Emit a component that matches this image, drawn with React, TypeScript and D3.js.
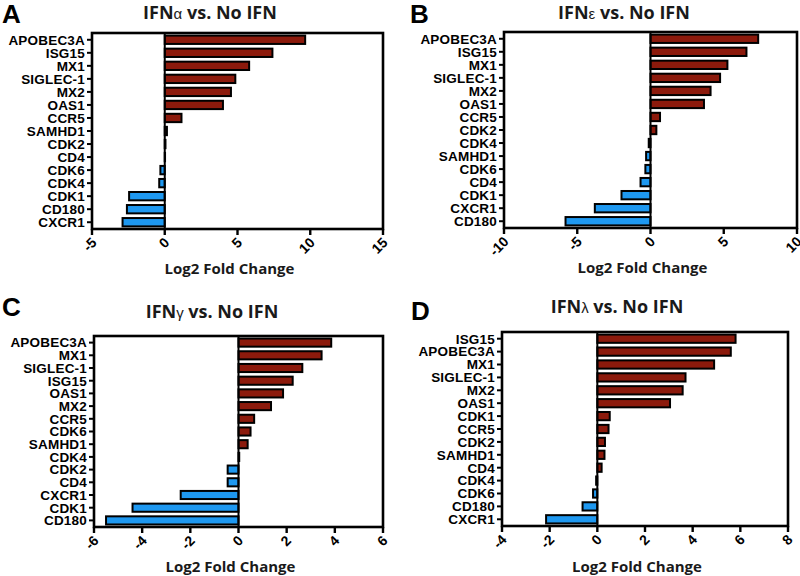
import React from 'react';
import * as d3 from 'd3';

// panel A: IFN-alpha
const genesA = ['APOBEC3A', 'ISG15', 'MX1', 'SIGLEC-1', 'MX2', 'OAS1', 'CCR5', 'SAMHD1', 'CDK2', 'CD4', 'CDK6', 'CDK4', 'CDK1', 'CD180', 'CXCR1'];
const valuesA = [9.65, 7.4, 5.8, 4.85, 4.55, 4.0, 1.15, 0.15, 0.05, 0.02, -0.3, -0.38, -2.45, -2.6, -2.9];
const ticksA = [-5, 0, 5, 10, 15];

// panel B: IFN-epsilon
const genesB = ['APOBEC3A', 'ISG15', 'MX1', 'SIGLEC-1', 'MX2', 'OAS1', 'CCR5', 'CDK2', 'CDK4', 'SAMHD1', 'CDK6', 'CD4', 'CDK1', 'CXCR1', 'CD180'];
const valuesB = [7.35, 6.55, 5.25, 4.75, 4.1, 3.65, 0.65, 0.4, -0.12, -0.3, -0.35, -0.68, -1.98, -3.8, -5.8];
const ticksB = [-10, -5, 0, 5, 10];

// panel C: IFN-gamma
const genesC = ['APOBEC3A', 'MX1', 'SIGLEC-1', 'ISG15', 'OAS1', 'MX2', 'CCR5', 'CDK6', 'SAMHD1', 'CDK4', 'CDK2', 'CD4', 'CXCR1', 'CDK1', 'CD180'];
const valuesC = [3.85, 3.45, 2.65, 2.25, 1.85, 1.35, 0.65, 0.5, 0.38, 0.03, -0.45, -0.45, -2.4, -4.4, -5.5];
const ticksC = [-6, -4, -2, 0, 2, 4, 6];

// panel D: IFN-lambda
const genesD = ['ISG15', 'APOBEC3A', 'MX1', 'SIGLEC-1', 'MX2', 'OAS1', 'CDK1', 'CCR5', 'CDK2', 'SAMHD1', 'CD4', 'CDK4', 'CDK6', 'CD180', 'CXCR1'];
const valuesD = [5.8, 5.6, 4.9, 3.7, 3.58, 3.05, 0.52, 0.47, 0.32, 0.3, 0.18, -0.05, -0.18, -0.62, -2.15];
const ticksD = [-4, -2, 0, 2, 4, 6, 8];

const UP = '#8c1a0c';
const DOWN = '#1e98f0';
const labelFont = '"Liberation Sans", Arial, sans-serif';
const titleFont = '"Open Sans", "Noto Sans", sans-serif';

type PanelProps = {
  letter: string;
  greek: string;
  genes: string[];
  values: number[];
  ticks: number[];
  box: { x0: number; x1: number; y0: number; y1: number };
  letterPos: [number, number];
  titlePos: [number, number];
  axisLabelY: number;
};

const Panel = ({ letter, greek, genes, values, ticks, box, letterPos, titlePos, axisLabelY }: PanelProps) => {
  const x = d3.scaleLinear().domain([ticks[0], ticks[ticks.length - 1]]).range([box.x0, box.x1]);
  const y = d3.scaleBand().domain(genes).range([box.y0, box.y1]).paddingInner(0.36).paddingOuter(0.2);
  const bw = y.bandwidth();
  const x0 = x(0);

  return (
    <g>
      <text x={letterPos[0]} y={letterPos[1]} fontFamily={labelFont} fontWeight="bold" fontSize={26}>
        {letter}
      </text>
      <text x={titlePos[0]} y={titlePos[1]} textAnchor="middle" fontFamily={titleFont} fontWeight="bold" fontSize={18} fill="#1a1a1a">
        IFN
        <tspan fontFamily={labelFont} fontWeight="normal" fontSize={15}>{greek}</tspan>
        {' vs. No IFN'}
      </text>

      {genes.map((g, i) => {
        const v = values[i];
        const bx = Math.min(x(v), x0);
        const w = Math.abs(x(v) - x0);
        return (
          <rect
            key={g}
            x={bx}
            y={y(g)}
            width={w}
            height={bw}
            fill={v >= 0 ? UP : DOWN}
            stroke="#000"
            strokeWidth={2}
          />
        );
      })}

      <line x1={x0} x2={x0} y1={box.y0} y2={box.y1} stroke="#000" strokeWidth={2} />
      <rect x={box.x0} y={box.y0} width={box.x1 - box.x0} height={box.y1 - box.y0} fill="none" stroke="#000" strokeWidth={2.6} />

      {genes.map((g) => {
        const cy = (y(g) ?? 0) + bw / 2;
        return (
          <g key={'l' + g}>
            <line x1={box.x0 - 5} x2={box.x0} y1={cy} y2={cy} stroke="#000" strokeWidth={2} />
            <text
              x={box.x0 - 7}
              y={cy}
              dy="0.36em"
              textAnchor="end"
              fontFamily={labelFont}
              fontWeight="bold"
              fontSize={13.5}
              letterSpacing={0.2}
            >
              {g}
            </text>
          </g>
        );
      })}

      {ticks.map((t) => (
        <g key={'t' + t}>
          <line x1={x(t)} x2={x(t)} y1={box.y1} y2={box.y1 + 6} stroke="#000" strokeWidth={2.4} />
          <text
            transform={`translate(${x(t) + 2},${box.y1 + 11}) rotate(-45)`}
            dy="0.35em"
            textAnchor="end"
            fontFamily={labelFont}
            fontWeight="bold"
            fontSize={14}
          >
            {String(t)}
          </text>
        </g>
      ))}

      <text
        x={(box.x0 + box.x1) / 2 - 8}
        y={axisLabelY}
        textAnchor="middle"
        fontFamily={titleFont}
        fontWeight="bold"
        fontSize={15}
        fill="#1a1a1a"
      >
        Log2 Fold Change
      </text>
    </g>
  );
};

export default function App() {
  return (
    <svg width={800} height={576} style={{ position: 'absolute', left: 0, top: 0, background: '#fff' }}>
      <rect width={800} height={576} fill="#fff" />
      <Panel
        letter="A"
        greek="α"
        genes={genesA}
        values={valuesA}
        ticks={ticksA}
        box={{ x0: 92, x1: 383, y0: 33, y1: 229 }}
        letterPos={[2, 23]}
        titlePos={[210, 19]}
        axisLabelY={274}
      />
      <Panel
        letter="B"
        greek="ε"
        genes={genesB}
        values={valuesB}
        ticks={ticksB}
        box={{ x0: 504, x1: 797, y0: 32, y1: 228 }}
        letterPos={[410, 23]}
        titlePos={[624, 19]}
        axisLabelY={273}
      />
      <Panel
        letter="C"
        greek="γ"
        genes={genesC}
        values={valuesC}
        ticks={ticksC}
        box={{ x0: 94, x1: 383, y0: 336, y1: 527 }}
        letterPos={[2, 316]}
        titlePos={[212, 318]}
        axisLabelY={572}
      />
      <Panel
        letter="D"
        greek="λ"
        genes={genesD}
        values={valuesD}
        ticks={ticksD}
        box={{ x0: 502, x1: 788, y0: 332, y1: 526 }}
        letterPos={[411, 320]}
        titlePos={[617, 313]}
        axisLabelY={572}
      />
    </svg>
  );
}
